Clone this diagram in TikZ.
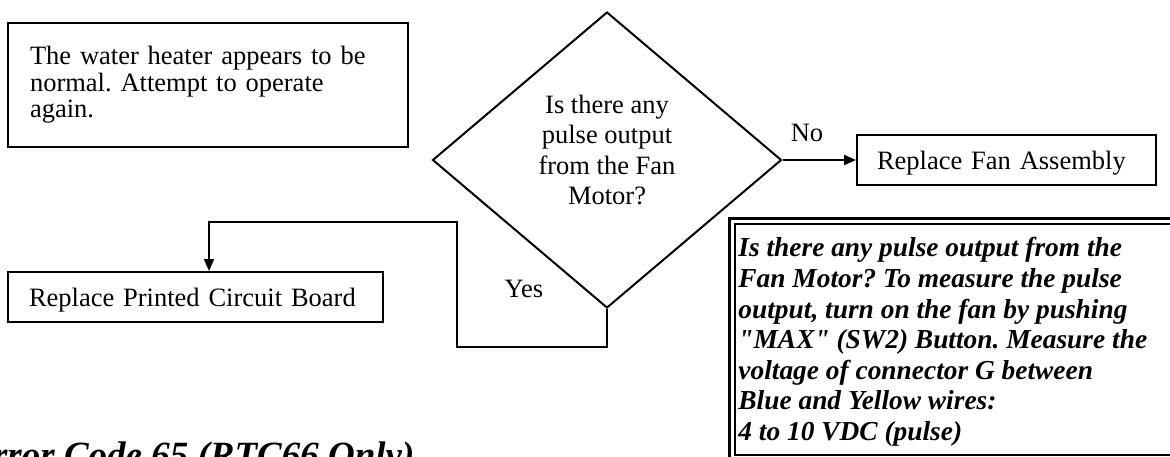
\documentclass[tikz,border=0pt]{standalone}
\usepackage{fontspec}
\setmainfont{Liberation Serif}
% same family without the TeX quote mapping, so " stays a straight mark
\newfontfamily\notefont{Liberation Serif}[Ligatures=Common]
\usetikzlibrary{shapes.geometric,arrows.meta}
\frenchspacing
\begin{document}
\begin{tikzpicture}[x=0.5pt,y=-0.5pt,
  body/.style={font=\fontsize{13.25}{15.2}\selectfont},
  box/.style={draw, line width=1pt, rectangle, inner ysep=0pt, align=left, body},
  onebox/.style={box, minimum height=25pt, text height=11pt, text depth=2pt},
  decision/.style={draw, diamond, line width=1pt, inner sep=0pt,
                   minimum width=174.5pt, minimum height=148pt},
  txt/.style={inner sep=0pt, body},
  flow/.style={line width=1pt, -{Triangle[length=6pt,width=5pt]}},
]
\useasboundingbox (0,0) rectangle (1170,456);
\clip (0,0) rectangle (1170,456);

% outcome: nothing wrong found
\node[box, text width=178pt, inner xsep=11pt, minimum height=62pt,
      font=\fontsize{13.25}{13.3}\selectfont] (normal) at (208,85)
  {The water heater appears to be\\ normal. Attempt to operate\\ again.};

% decision
\node[decision] (dec) at (607,160) {};
\node[txt, align=center] (qtext) at (607,150)
  {Is there any\\ pulse output\\ from the Fan\\ Motor?};

% outcomes
\node[onebox, text width=129.5pt, inner xsep=10pt] (fan) at (1006.5,160)
  {Replace Fan Assembly};
\node[onebox, text width=166.5pt, inner xsep=10.5pt] (pcb) at (195.5,297)
  {Replace Printed Circuit Board};

% connectors
\draw[flow] (dec.east) -- (fan.west);
\node[txt] (nolabel) at (807,133) {No};

\coordinate (yesA) at (457,347);
\coordinate (yesB) at (209,222);
\draw[flow] (dec.south) |- (yesA) |- (yesB) -- (yesB |- pcb.north);
\node[txt] (yeslabel) at (524,289) {Yes};

% measurement note with thick-thin frame
\node[draw, line width=0.75pt, anchor=north west, inner sep=0pt,
      minimum width=223pt, minimum height=115.5pt] (note) at (734,223) {};
\draw[line width=1.5pt] ([xshift=-2.5pt,yshift=2.5pt]note.north west)
  rectangle ([xshift=2.5pt,yshift=-2.5pt]note.south east);
\node[txt, anchor=west, align=left,
      font=\notefont\fontsize{13.7}{15.3}\selectfont\bfseries\itshape]
  (notetext) at (738,342)
  {Is there any pulse output from the\\
   Fan Motor? To measure the pulse\\
   output, turn on the fan by pushing\\
   "MAX" (SW2) Button. Measure the\\
   voltage of connector G between\\
   Blue and Yellow wires:\\
   4 to 10 VDC (pulse)};

% page heading
\node[inner sep=0pt, anchor=base west, font=\fontsize{18.5}{22}\selectfont\bfseries\itshape]
  (title) at (-32,467) {Error Code 65 (RTC66 Only)};
\end{tikzpicture}
\end{document}
